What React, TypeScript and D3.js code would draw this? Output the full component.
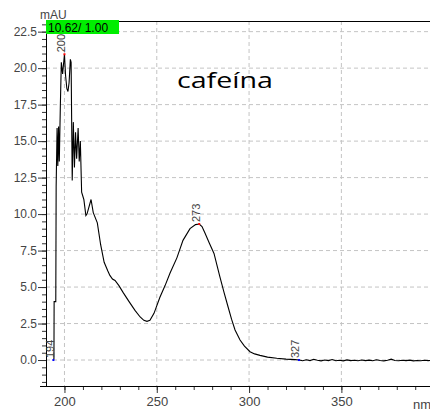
import React, { useRef, useEffect } from "react";
import * as d3 from "d3";

// spectrum of caffeine, wavelength (nm) vs absorbance (mAU)
const wavelengths = [
  194.0, 194.3, 194.4, 195.3, 195.5, 196.0, 196.4, 196.8, 197.2, 197.8, 198.3, 199.0, 200.0, 200.6, 201.3, 201.9,
  202.5, 203.2, 203.6, 204.2, 204.8, 205.4, 206.0, 206.6, 207.4, 208.0, 208.6, 209.3, 210.5, 211.6, 212.2, 214.4,
  215.6, 217.8, 219.6, 221.5, 223.5, 224.6, 226.0, 227.4, 229.5, 231.9, 235.0, 238.2, 241.0, 243.0, 244.7, 246.3,
  248.5, 251.7, 254.5, 257.2, 260.9, 264.2, 268.0, 271.0, 273.0, 274.5, 276.1, 278.5, 281.0, 283.0, 284.2, 286.5,
  288.6, 290.5, 292.4, 295.1, 297.5, 300.5, 303.0, 305.9, 310.0, 315.0, 320.0, 325.0, 327.0, 329, 331, 333, 335,
  337, 339, 341, 343, 345, 347, 349, 351, 353, 355, 357, 359, 361, 363, 365, 367, 369, 371, 373, 375, 377, 379,
  381, 383, 385, 387, 389, 391, 393, 395, 397, 398,
];
const absorbance = [
  0.0, 0.1, 4.0, 4.0, 11.9, 15.9, 13.3, 16.0, 13.6, 17.6, 20.4, 19.6, 20.95, 19.5, 18.6, 18.4,
  19.0, 20.6, 20.4, 12.3, 16.3, 13.2, 15.6, 13.8, 15.9, 13.6, 15.0, 11.5, 11.0, 9.9, 10.0, 11.0,
  10.1, 9.4, 7.9, 6.7, 6.1, 5.8, 5.55, 5.45, 5.1, 4.6, 4.0, 3.4, 2.95, 2.72, 2.65, 2.72,
  3.2, 4.3, 5.1, 5.96, 7.0, 8.2, 9.0, 9.28, 9.32, 9.15, 8.7, 8.0, 7.3, 6.3, 5.7, 4.6,
  3.65, 2.8, 2.06, 1.37, 0.95, 0.57, 0.42, 0.32, 0.2, 0.12, 0.06, 0.03, 0.0, -0.05, 0.02, -0.04, 0.05,
  -0.02, -0.06, 0.0, -0.04, 0.03, -0.05, -0.02, -0.06, 0.01, -0.04, -0.02, -0.05, 0.0, -0.04, -0.01, -0.05, 0.02, -0.03, -0.06, -0.02, 0.06, -0.03,
  -0.05, -0.02, -0.04, -0.01, -0.06, -0.03, -0.05, -0.02, -0.04, -0.03,
];

const yTicks = [0, 2.5, 5, 7.5, 10, 12.5, 15, 17.5, 20, 22.5];
const xTicks = [200, 250, 300, 350];
const peakLabels = [
  { nm: 194, color: "#0000ff" },
  { nm: 200, color: "#ff0000" },
  { nm: 273, color: "#ff0000" },
  { nm: 327, color: "#0000ff" },
];

const App = () => {
  const svgRef = useRef();
  const width = 430;
  const height = 411;

  useEffect(() => {
    const svg = d3.select(svgRef.current);
    svg.selectAll("*").remove();

    const left = 46;
    const top = 21;
    const bottom = 386;

    const xScale = d3.scaleLinear().domain([190, 398]).range([left, width]);
    const yScale = d3.scaleLinear().domain([-1.78, 23.23]).range([bottom, top]);
    const font = "'Liberation Sans', Arial, sans-serif";

    const data = wavelengths.map((w, i) => ({ w, a: absorbance[i] }));
    const valueAt = (nm) => {
      let best = data[0];
      data.forEach((d) => {
        if (Math.abs(d.w - nm) < Math.abs(best.w - nm)) best = d;
      });
      return best.a;
    };

    // grid
    svg
      .append("g")
      .selectAll("line")
      .data(yTicks)
      .join("line")
      .attr("x1", left)
      .attr("x2", width)
      .attr("y1", (d) => yScale(d))
      .attr("y2", (d) => yScale(d))
      .attr("stroke", "#c4c4c4")
      .attr("stroke-dasharray", "4,3");
    svg
      .append("g")
      .selectAll("line")
      .data(xTicks)
      .join("line")
      .attr("x1", (d) => xScale(d))
      .attr("x2", (d) => xScale(d))
      .attr("y1", top)
      .attr("y2", bottom)
      .attr("stroke", "#c4c4c4")
      .attr("stroke-dasharray", "4,3");

    // top border
    svg.append("line").attr("x1", left).attr("x2", width).attr("y1", top + 0.5).attr("y2", top + 0.5).attr("stroke", "#000");

    // y axis
    svg
      .append("g")
      .attr("transform", `translate(${left},0)`)
      .call(d3.axisLeft(yScale).tickValues(d3.range(-1.5, 23.01, 0.5)).tickSize(4).tickFormat(""))
      .call((g) => g.select(".domain").remove())
      .call((g) => g.selectAll("line").attr("stroke", "#333"));
    svg
      .append("g")
      .attr("transform", `translate(${left},0)`)
      .call(d3.axisLeft(yScale).tickValues(yTicks).tickSize(8).tickPadding(1).tickFormat(d3.format(".1f")))
      .call((g) => g.select(".domain").remove())
      .call((g) => g.selectAll("line").attr("stroke", "#333"))
      .call((g) => g.selectAll("text").attr("font-family", font).attr("font-size", 12).attr("fill", "#444"));
    svg.append("line").attr("x1", left + 0.5).attr("x2", left + 0.5).attr("y1", top).attr("y2", bottom).attr("stroke", "#000");

    // x axis
    svg
      .append("g")
      .attr("transform", `translate(0,${bottom})`)
      .call(d3.axisBottom(xScale).tickValues(d3.range(200, 400, 10)).tickSize(4).tickFormat(""))
      .call((g) => g.select(".domain").remove())
      .call((g) => g.selectAll("line").attr("stroke", "#333"));
    svg
      .append("g")
      .attr("transform", `translate(0,${bottom})`)
      .call(d3.axisBottom(xScale).tickValues(xTicks).tickSize(7).tickPadding(4))
      .call((g) => g.select(".domain").remove())
      .call((g) => g.selectAll("line").attr("stroke", "#333"))
      .call((g) => g.selectAll("text").attr("font-family", font).attr("font-size", 13).attr("fill", "#444"));
    svg.append("line").attr("x1", left - 6).attr("x2", width).attr("y1", bottom + 0.5).attr("y2", bottom + 0.5).attr("stroke", "#000");

    // axis units
    svg.append("text").attr("x", 40).attr("y", 19).text("mAU").attr("font-family", font).attr("font-size", 12).attr("fill", "#444");
    svg.append("text").attr("x", 413).attr("y", 409).text("nm").attr("font-family", font).attr("font-size", 13).attr("fill", "#444");

    // spectrum
    const line = d3
      .line()
      .x((d) => xScale(d.w))
      .y((d) => yScale(d.a));
    svg.append("path").datum(data).attr("fill", "none").attr("stroke", "#000").attr("stroke-width", 1.1).attr("d", line);

    // peak labels
    peakLabels.forEach((p) => {
      const px = xScale(p.nm);
      const py = yScale(valueAt(p.nm));
      svg.append("rect").attr("x", px - 1).attr("y", py - 1).attr("width", 2).attr("height", 2).attr("fill", p.color);
      svg
        .append("text")
        .attr("transform", `translate(${px + 0.5},${py - 2}) rotate(-90)`)
        .text(p.nm)
        .attr("font-family", font)
        .attr("font-size", 11)
        .attr("fill", "#444");
    });

    // green scale box
    svg.append("rect").attr("x", left).attr("y", 20).attr("width", 73).attr("height", 14).attr("fill", "#00ee00");
    svg.append("text").attr("x", 48).attr("y", 32).text("10.62/ 1.00").attr("font-family", font).attr("font-size", 12).attr("fill", "#000");

    // title
    svg
      .append("text")
      .attr("x", 177)
      .attr("y", 88)
      .text("cafeína")
      .attr("font-family", "'Open Sans', 'Noto Sans', sans-serif")
      .attr("font-size", 22)
      .attr("textLength", 96)
      .attr("lengthAdjust", "spacingAndGlyphs")
      .attr("fill", "#000");
  }, []);

  return (
    <svg
      ref={svgRef}
      width={width}
      height={height}
      style={{ position: "absolute", left: 0, top: 0, background: "#fff" }}
    />
  );
};

export default App;
